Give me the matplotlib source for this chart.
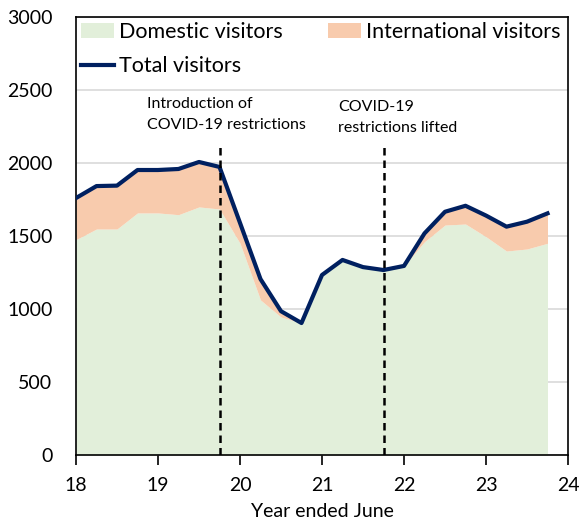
import matplotlib
matplotlib.use("Agg")
import matplotlib.pyplot as plt
import numpy as np

plt.rcParams['font.family'] = ['Lato', 'DejaVu Sans']

quarters = [18.0, 18.25, 18.5, 18.75, 19.0, 19.25, 19.5, 19.75,
            20.0, 20.25, 20.5, 20.75, 21.0, 21.25, 21.5, 21.75,
            22.0, 22.25, 22.5, 22.75, 23.0, 23.25, 23.5, 23.75]
total = [1760, 1842, 1845, 1952, 1952, 1959, 2007, 1973,
         1590, 1205, 985, 904, 1233, 1336, 1287, 1267,
         1295, 1518, 1666, 1707, 1640, 1564, 1598, 1655]
domestic = [1475, 1548, 1548, 1658, 1658, 1646, 1699, 1685,
            1450, 1062, 945, 904, 1233, 1336, 1287, 1267,
            1295, 1461, 1575, 1582, 1495, 1397, 1411, 1450]
xticks = [18, 19, 20, 21, 22, 23, 24]
yticks = [0, 500, 1000, 1500, 2000, 2500, 3000]
events = [19.75, 21.75]
event_labels = ["Introduction of\nCOVID-19 restrictions", "COVID-19\nrestrictions lifted"]

fig = plt.figure(figsize=(5.82, 5.19), dpi=100)
ax = fig.add_axes([76/582, 1-455/519, (568-76)/582, (455-17)/519])

x = np.array(quarters)
d = np.array(domestic)
t = np.array(total)
h_dom = ax.fill_between(x, 0, d, color='#E2EFDA', linewidth=0, label='Domestic visitors', zorder=1)
h_int = ax.fill_between(x, d, t, color='#F8CBAD', linewidth=0, label='International visitors', zorder=1)
h_tot, = ax.plot(x, t, color='#002060', linewidth=3, label='Total visitors', zorder=3)

ax.axvline(events[0], color='black', linestyle=(0, (3, 2)), linewidth=1.8, ymax=0.712, zorder=4)
ax.axvline(events[1], color='black', linestyle=(0, (3, 2)), linewidth=1.8, ymax=0.710, zorder=4)

ax.text(18.87, 2332, event_labels[0], ha='left', va='center', fontsize=11.5, linespacing=1.65)
ax.text(21.20, 2312, event_labels[1], ha='left', va='center', fontsize=11.5, linespacing=1.65)

ax.set_xlim(18, 24)
ax.set_ylim(0, 3000)
ax.set_xticks(xticks)
ax.set_yticks(yticks)
ax.tick_params(axis='y', length=0, pad=17, labelsize=14)
ax.tick_params(axis='x', direction='out', length=7, width=1.2, labelsize=14, pad=9)
ax.grid(axis='y', color='#D9D9D9', linewidth=1.2, zorder=0)
ax.set_axisbelow(True)
for s in ax.spines.values():
    s.set_linewidth(1.2)
ax.set_xlabel('Year ended June', fontsize=14, labelpad=6)

leg = ax.legend(handles=[h_dom, h_tot, h_int], loc='upper left', ncol=2,
                frameon=False, fontsize=15.5, bbox_to_anchor=(0.0, 1.0),
                handlelength=1.53, handletextpad=0.23, columnspacing=2.1,
                borderaxespad=0.0, borderpad=0.25, labelspacing=0.65)

fig.savefig('out.png', dpi=100)
